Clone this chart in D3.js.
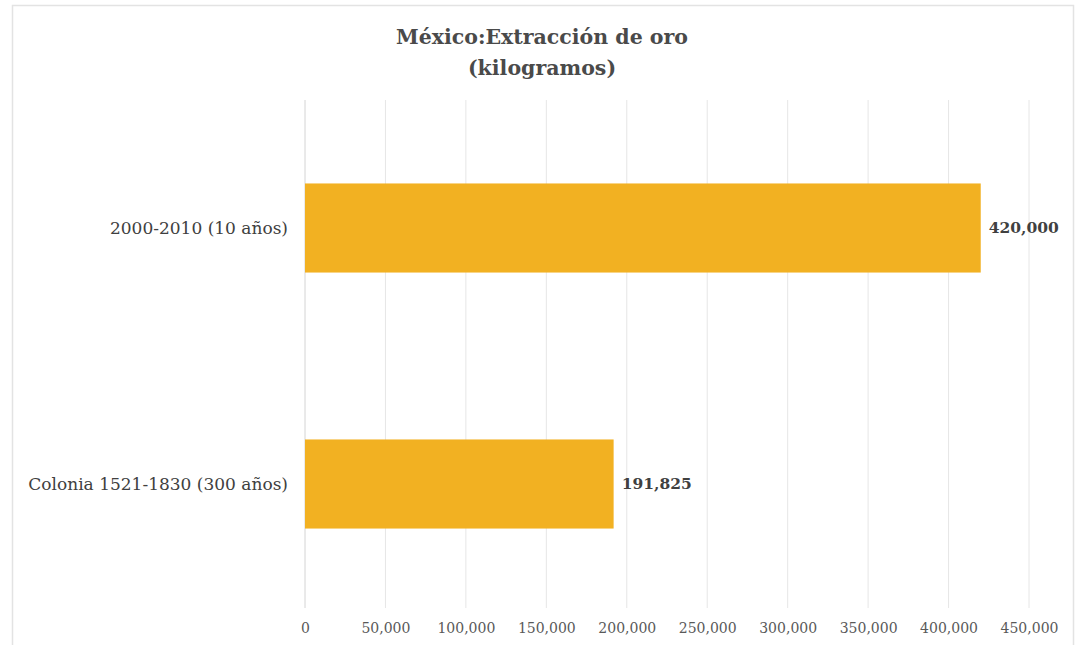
<!DOCTYPE html>
<html>
<head>
<meta charset="utf-8">
<script src="https://cdn.jsdelivr.net/npm/d3@7"></script>
<style>
  body { margin: 0; background: #fff; }
  svg { display: block; }
</style>
</head>
<body>
<div id="chart"></div>
<script>
// data
const categories = ['2000-2010 (10 años)', 'Colonia 1521-1830 (300 años)']
const values = [420000, 191825]
const tickValues = [0, 50000, 100000, 150000, 200000, 250000, 300000, 350000, 400000, 450000]
const titleLines = ['México:Extracción de oro', '(kilogramos)']

function draw(){
    const dimensions = {
        width: 1081,
        height: 645,
        left: 305,
        right: 1029,
        top: 100,
        bottom: 612
    }

    const svg = d3.select('#chart')
        .append('svg')
        .attr('width', dimensions.width)
        .attr('height', dimensions.height)
        .style('font-family', '"DejaVu Serif", "Liberation Serif", serif')

    // outer frame
    svg.append('rect')
        .attr('x', 12.5)
        .attr('y', 5.5)
        .attr('width', 1061)
        .attr('height', 660)
        .attr('fill', 'none')
        .attr('stroke', '#e3e3e3')
        .attr('stroke-width', 1.5)

    // scales
    const xScale = d3.scaleLinear()
        .domain([0, 450000])
        .range([dimensions.left, dimensions.right])

    const yScale = d3.scaleBand()
        .domain(categories)
        .range([dimensions.top, dimensions.bottom])
        .paddingInner(0.652)
        .paddingOuter(0.326)

    // gridlines
    svg.append('g')
        .selectAll('line')
        .data(tickValues.slice(1))
        .join('line')
        .attr('x1', d => xScale(d))
        .attr('x2', d => xScale(d))
        .attr('y1', dimensions.top)
        .attr('y2', 608)
        .attr('stroke', '#e6e6e6')
        .attr('stroke-width', 1)

    // category axis line
    svg.append('line')
        .attr('x1', xScale(0))
        .attr('x2', xScale(0))
        .attr('y1', dimensions.top)
        .attr('y2', 608)
        .attr('stroke', '#d4d4d4')

    // x axis labels
    const xAxis = d3.axisBottom(xScale)
        .tickValues(tickValues)
        .tickFormat(d3.format(','))
        .tickSize(0)
        .tickPadding(0)

    const xg = svg.append('g')
        .attr('transform', `translate(0, 623)`)
        .call(xAxis)
    xg.select('.domain').remove()
    xg.selectAll('text')
        .attr('font-family', '"DejaVu Serif", "Liberation Serif", serif')
        .attr('font-size', 14)
        .attr('fill', '#595959')

    // bars
    const data = categories.map((c, i) => ({ name: c, value: values[i] }))

    svg.append('g')
        .selectAll('rect')
        .data(data)
        .join('rect')
        .attr('x', xScale(0))
        .attr('y', d => yScale(d.name))
        .attr('width', d => xScale(d.value) - xScale(0))
        .attr('height', yScale.bandwidth())
        .attr('fill', '#F2B122')

    // value labels
    svg.append('g')
        .selectAll('text')
        .data(data)
        .join('text')
        .attr('x', d => xScale(d.value) + 8)
        .attr('y', d => yScale(d.name) + yScale.bandwidth() / 2)
        .attr('dy', '0.35em')
        .attr('font-size', 15.5)
        .attr('font-weight', 'bold')
        .attr('fill', '#404040')
        .text(d => d3.format(',')(d.value))

    // category labels
    svg.append('g')
        .selectAll('text')
        .data(categories)
        .join('text')
        .attr('x', 288)
        .attr('y', d => yScale(d) + yScale.bandwidth() / 2)
        .attr('dy', '0.35em')
        .attr('text-anchor', 'end')
        .attr('font-size', 17)
        .attr('fill', '#404040')
        .text(d => d)

    // title
    svg.append('g')
        .selectAll('text')
        .data(titleLines)
        .join('text')
        .attr('x', 542)
        .attr('y', (d, i) => 44 + i * 31)
        .attr('text-anchor', 'middle')
        .attr('font-size', 20.5)
        .attr('font-weight', 'bold')
        .attr('fill', '#4a4a4a')
        .text(d => d)
}

draw()
</script>
</body>
</html>
